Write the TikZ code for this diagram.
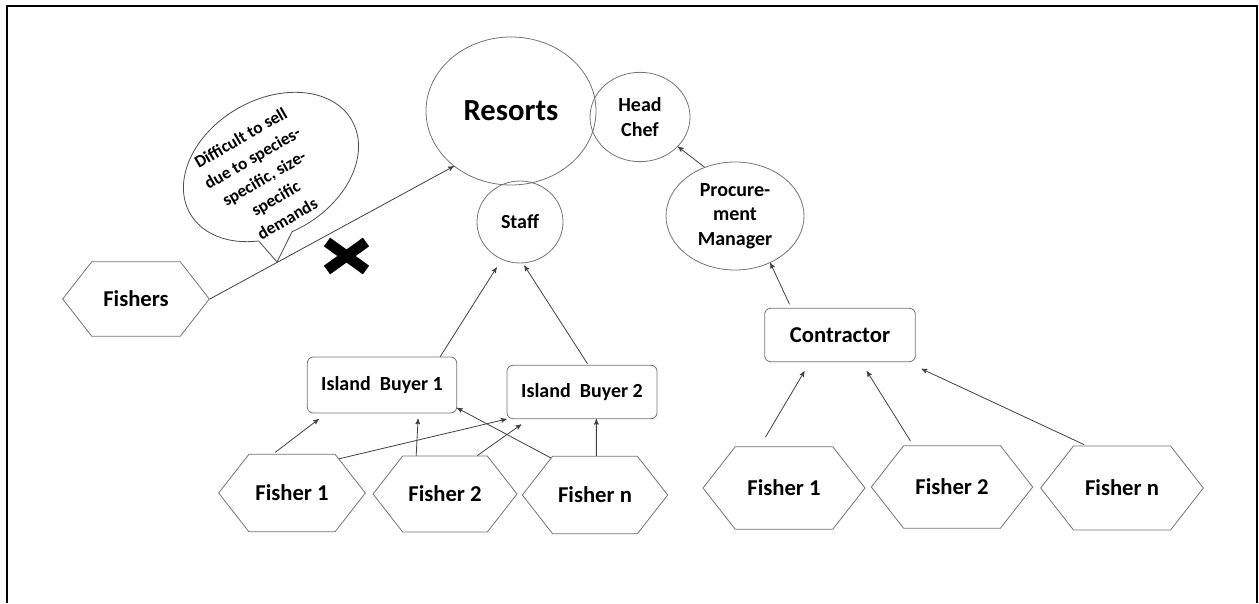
\documentclass[tikz,border=0pt]{standalone}
\usepackage{fontspec}
\setmainfont{Carlito}
\usetikzlibrary{
    arrows,
    shapes.geometric,
    shapes.symbols,
    shapes.callouts
}
\definecolor{linegray}{gray}{0.45}
\definecolor{arrowgray}{gray}{0.25}

\begin{document}
\begin{tikzpicture}[->,>=stealth',x=0.75pt,y=-0.75pt,line width=0.6pt,font=\bfseries]
    \tikzstyle{oval}=[ellipse, draw=linegray, inner sep=0pt, align=center]
    \tikzstyle{box}=[rectangle, rounded corners=4.5pt, draw=linegray, inner sep=0pt]
    \tikzstyle{hex}=[signal, signal to=west and east, signal pointer angle=104, draw=linegray, inner sep=0pt]
    \tikzstyle{small}=[font=\fontsize{15}{18.5}\selectfont\bfseries]
    \tikzstyle{big}=[font=\fontsize{17}{20}\selectfont\bfseries]
    \tikzstyle{link}=[draw=arrowgray]
    \useasboundingbox (0,0) rectangle (1259,603);
    \draw[-, line width=1.5pt] (7,603) -- (7,6) -- (1257,6) -- (1257,603);
    % consumers
    \node[oval, minimum width=127.5pt, minimum height=111pt, font=\fontsize{23}{27}\selectfont\bfseries] (res) at (511,111) {Resorts};
    \node[oval, small, minimum width=75pt, minimum height=67pt] (chef) at (640,117) {Head\\Chef};
    \node[oval, small, minimum width=64.5pt, minimum height=61.5pt] (staff) at (520,222) {Staff};
    \node[oval, small, minimum width=103.5pt, minimum height=81pt] (pm) at (735,216) {Procure-\\ment\\Manager};
    % middlemen
    \node[box, small, minimum width=112pt, minimum height=42pt] (ib1) at (382,385) {Island\ \ Buyer 1};
    \node[box, small, minimum width=112.5pt, minimum height=40pt] (ib2) at (582,392) {Island\ \ Buyer 2};
    \node[box, big, minimum width=113pt, minimum height=40pt] (con) at (840,335) {Contractor};
    % fishers
    \node[hex, big, minimum width=110pt, minimum height=56pt] (fi) at (136,299) {Fishers};
    \node[hex, big, minimum width=110pt, minimum height=58pt] (lf1) at (292,493) {Fisher 1};
    \node[hex, big, minimum width=108pt, minimum height=57pt] (lf2) at (445,494) {Fisher 2};
    \node[hex, big, minimum width=109pt, minimum height=58pt] (lfn) at (595,495) {Fisher n};
    \node[hex, big, minimum width=121.5pt, minimum height=62pt] (rf1) at (784,488) {Fisher 1};
    \node[hex, big, minimum width=121pt, minimum height=62pt] (rf2) at (952,487) {Fisher 2};
    \node[hex, big, minimum width=122pt, minimum height=63pt] (rfn) at (1122,488) {Fisher n};
    % speech bubble and cross
    \node[ellipse callout, draw=black!70, rotate=30, inner sep=0pt, minimum width=140pt, minimum height=101pt,
          callout absolute pointer={(277,262)}, callout pointer arc=22] (bub) at (271,167) {};
    \node[rotate=30, align=center, inner sep=0pt, font=\fontsize{13}{17.5}\selectfont\bfseries] (bubtext) at (264,178)
          {Difficult to sell\\due to species-\\specific, size-\\specific\\demands};
    \draw[-, line width=8pt] (327,242) -- (366,270);
    \draw[-, line width=8pt] (327,270) -- (366,242);
    % links
    \path (fi.east) edge[link] (res.224);
    \path (ib1.26) edge[link, shorten >=7pt] (staff.244);
    \path (ib2.77) edge[link, shorten <=1pt, shorten >=2pt] (staff.274);
    \path (pm.122) edge[link] (chef.-38);
    \path (con.151) edge[link, shorten <=3pt] (pm.-53);
    \path (rf1.120) edge[link, shorten <=8pt, shorten >=8pt] (con.222);
    \path (rf2.133) edge[link, shorten <=4pt, shorten >=8pt] (con.-52);
    \path (rfn.130) edge[link, shorten <=2pt, shorten >=12pt] (con.-22);
    \path (lf1.116) edge[link, shorten <=2pt, shorten >=7pt] (ib1.207);
    \path (lf1.36) edge[link] (ib2.south west);
    \path (lf2.127) edge[link, shorten >=4pt] (ib1.-38);
    \path (lf2.50) edge[link, shorten >=7pt] (ib2.207);
    \path (lfn.140) edge[link] (ib1.-17);
    \path (lfn.88) edge[link] (ib2.-62);
\end{tikzpicture}
\end{document}
